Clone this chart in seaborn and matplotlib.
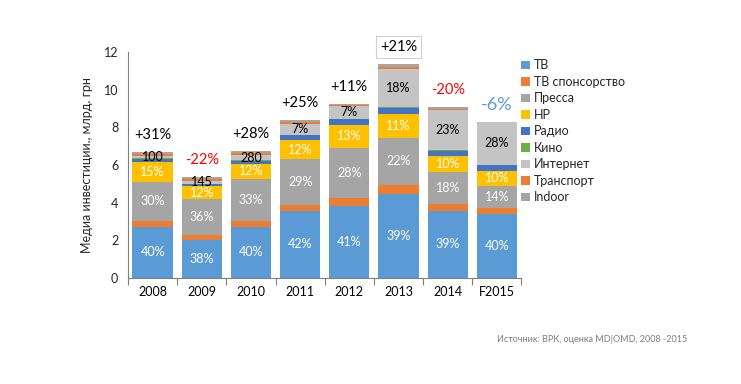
import matplotlib
matplotlib.use('Agg')
import matplotlib.pyplot as plt
from matplotlib.patches import Patch
import numpy as np
import seaborn as sns

# данные (млрд грн)
years = ['2008', '2009', '2010', '2011', '2012', '2013', '2014', 'F2015']
tv = [2.72, 2.02, 2.72, 3.56, 3.84, 4.48, 3.56, 3.40]
tv_sponsor = [0.32, 0.27, 0.32, 0.32, 0.42, 0.46, 0.37, 0.30]
press = [2.07, 1.90, 2.22, 2.42, 2.66, 2.49, 1.68, 1.20]
outdoor = [1.06, 0.67, 0.81, 1.01, 1.21, 1.27, 0.88, 0.80]
radio = [0.15, 0.12, 0.15, 0.27, 0.30, 0.32, 0.27, 0.30]
cinema = [0.03, 0.03, 0.03, 0.03, 0.03, 0.03, 0.03, 0.02]
internet = [0.12, 0.15, 0.28, 0.56, 0.65, 2.04, 2.13, 2.25]
transport = [0.12, 0.10, 0.10, 0.12, 0.08, 0.12, 0.07, 0.0]
indoor = [0.10, 0.08, 0.09, 0.08, 0.05, 0.13, 0.07, 0.0]

segment_names = ['ТВ', 'ТВ спонсорство', 'Пресса', 'НР', 'Радио', 'Кино',
                 'Интернет', 'Транспорт', 'Indoor']
segment_colors = ['#5b9bd5', '#ed7d31', '#a5a5a5', '#ffc000', '#4472c4',
                  '#70ad47', '#c4c4c4', '#ed7d31', '#a5a5a5']

# подписи
tv_pct = ['40%', '38%', '40%', '42%', '41%', '39%', '39%', '40%']
press_pct = ['30%', '36%', '33%', '29%', '28%', '22%', '18%', '14%']
outdoor_pct = ['15%', '12%', '12%', '12%', '13%', '11%', '10%', '10%']
internet_lbl = ['100', '145', '280', '7%', '7%', '18%', '23%', '28%']
growth = ['+31%', '-22%', '+28%', '+25%', '+11%', '+21%', '-20%', '-6%']
growth_colors = ['black', '#ff0000', 'black', 'black', 'black', 'black',
                 '#ff0000', '#5b9bd5']

sns.set_theme(style='white')
plt.rcParams['font.family'] = ['Lato', 'DejaVu Sans']

fig = plt.figure(figsize=(7.41, 3.84), dpi=100)
ax = fig.add_axes([0.1727, 0.276, 0.531, 0.589])

series = [tv, tv_sponsor, press, outdoor, radio, cinema, internet, transport, indoor]
bottom = np.zeros(len(years))
bottoms = []
for vals, color in zip(series, segment_colors):
    vals = np.array(vals)
    sns.barplot(x=years, y=vals, bottom=bottom, color=color, order=years,
                width=0.82, saturation=1, errorbar=None, linewidth=0, ax=ax)
    bottoms.append(bottom.copy())
    bottom = bottom + vals
totals = bottom

x = np.arange(len(years))


def seg_labels(idx, labels, color):
    vals = np.array(series[idx])
    for i, lbl in enumerate(labels):
        ax.text(x[i], bottoms[idx][i] + vals[i] / 2, lbl, ha='center', va='center',
                fontsize=9, color=color, zorder=5)


seg_labels(0, tv_pct, 'white')
seg_labels(2, press_pct, 'white')
seg_labels(3, outdoor_pct, 'white')
seg_labels(6, internet_lbl, 'black')

# прирост к прошлому году
for i, g in enumerate(growth):
    fs = 13 if g == '-6%' else 10.5
    box = dict(facecolor='white', edgecolor='#d0d0d0' if g == '+21%' else 'none',
               pad=3, linewidth=0.8)
    ax.text(x[i], totals[i] + 0.92, g, ha='center', va='center', fontsize=fs,
            color=growth_colors[i], bbox=box, zorder=6)

ax.set_xlim(-0.5, len(years) - 0.5)
ax.set_ylim(0, 12)
ax.set_yticks(range(0, 13, 2))
ax.set_xticks(x)
ax.set_xticklabels(years)
ax.set_xticks(np.arange(-0.5, len(years), 1), minor=True)
ax.tick_params(axis='x', which='major', length=0, labelsize=9, pad=6, colors='black')
ax.tick_params(axis='x', which='minor', length=5, width=0.8, color='#7f7f7f', direction='out')
ax.tick_params(axis='y', length=4, width=0.8, color='#7f7f7f', direction='out',
               labelsize=9, pad=3)
ax.xaxis.set_tick_params(bottom=True, which='minor')
for side in ['top', 'right']:
    ax.spines[side].set_visible(False)
for side in ['left', 'bottom']:
    ax.spines[side].set_color('#7f7f7f')
    ax.spines[side].set_linewidth(0.8)
ax.set_ylabel('Медиа инвестиции., млрд. грн', fontsize=9, labelpad=8)
ax.set_xlabel('')

handles = [Patch(facecolor=c, edgecolor='none') for c in segment_colors]
fig.legend(handles, segment_names, loc='upper left', bbox_to_anchor=(0.688, 0.875),
           frameon=False, fontsize=9, handlelength=0.7, handleheight=0.7,
           handletextpad=0.3, labelspacing=0.36)

fig.text(0.927, 0.115, 'Источник: ВРК, оценка MD|OMD, 2008 -2015', ha='right',
         va='center', fontsize=6.5, color='#7f7f7f')

fig.savefig('out.png', dpi=100)
